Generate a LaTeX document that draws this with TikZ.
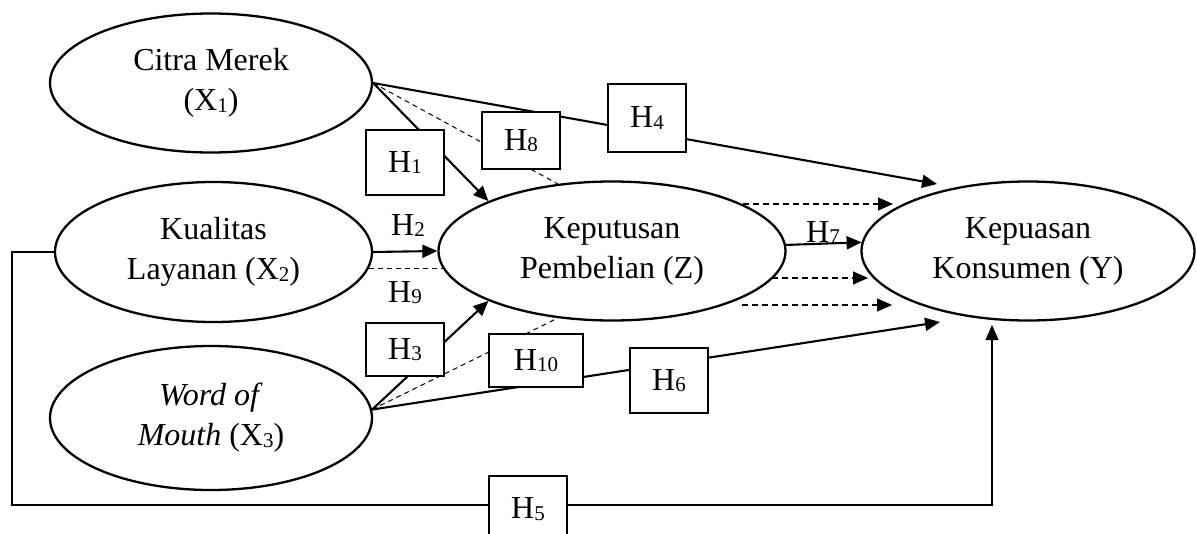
\documentclass[tikz,border=0pt]{standalone}
\usepackage{fontspec}
\setmainfont{Liberation Serif}
\usetikzlibrary{shapes.geometric,arrows.meta}
% lowered, smaller index digits
\newcommand\sbd[1]{\raisebox{-1.5pt}{\fontsize{21}{21}\selectfont #1}}

\begin{document}
\begin{tikzpicture}[x=1pt,y=-1pt,
  construct/.style={ellipse,draw,line width=2.3pt,inner sep=0pt,align=center,
    font=\fontsize{32}{40}\selectfont},
  hbox/.style={draw,fill=white,line width=1.1pt,inner sep=0pt,
    font=\fontsize{32}{40}\selectfont},
  hlabel/.style={inner sep=0pt,anchor=base,font=\fontsize{32}{40}\selectfont},
  tip/.style={-{Triangle[length=15pt,width=13pt]}},
  direct/.style={line width=2.1pt,tip},
  mediated/.style={line width=1pt,dash pattern=on 5pt off 4pt},
  mediatedtip/.style={line width=1.4pt,dash pattern=on 6pt off 4pt,tip},
  link/.style={line width=1.1pt,tip}]

\useasboundingbox (0,0) rectangle (1197,533);

% constructs
\node[construct,minimum width=322pt,minimum height=139pt] (X1) at (211,83)
  {Citra Merek\\(X\sbd{1})};
\node[construct,minimum width=317pt,minimum height=140pt] (X2) at (213.5,252)
  {Kualitas\\Layanan (X\sbd{2})};
\node[construct,minimum width=322pt,minimum height=144pt] (X3) at (211,418)
  {\textit{Word of}\\\textit{Mouth} (X\sbd{3})};
\node[construct,minimum width=347pt,minimum height=139pt] (Z) at (612,251)
  {Keputusan\\Pembelian (Z)};
\node[construct,minimum width=333pt,minimum height=139pt] (Y) at (1028,251)
  {Kepuasan\\Konsumen (Y)};

% free ends of the connectors
\coordinate (h4tip) at (937,184);
\coordinate (h6tip) at (940,322);
\coordinate (h5corner) at (12,505);
\coordinate (h5tip) at (992,325);
\coordinate (d1a) at (743,204);
\coordinate (d1b) at (893,204);
\coordinate (d2a) at (772,278);
\coordinate (d2b) at (868,278);
\coordinate (d3a) at (742,305);
\coordinate (d3b) at (892,305);

% direct effects
\draw[direct] (X1.east) -- (Z.158);
\draw[direct] (X2.east) -- (Z.west);
\draw[direct] (X3.3) -- (Z.202);
\draw[direct] (X1.east) -- (h4tip);
\draw[direct] (X3.3) -- (h6tip);
\draw[direct] (Z.2.3) -- (Y.177.6);
\draw[link] (X2.west) -- (X2.west -| h5corner) -- (h5corner)
  -- (h5corner -| h5tip) -- (h5tip);

% mediated effects
\draw[mediated] (X1.east) -- (Z.129);
\draw[mediated] (X2.-6.7) -- (X2.-6.7 -| Z.186.5);
\draw[mediated] (X3.3) -- (Z.231);
\draw[mediatedtip] (d1a) -- (d1b);
\draw[mediatedtip] (d2a) -- (d2b);
\draw[mediatedtip] (d3a) -- (d3b);

% hypothesis boxes
\node[hbox,minimum width=78pt,minimum height=65pt] (h1) at (405,162.5) {H\sbd{1}};
\node[hbox,minimum width=78pt,minimum height=57pt] (h8) at (521,140.5) {H\sbd{8}};
\node[hbox,minimum width=78pt,minimum height=68pt] (h4) at (647,118) {H\sbd{4}};
\node[hbox,minimum width=78pt,minimum height=53pt] (h3) at (405,349.5) {H\sbd{3}};
\node[hbox,minimum width=94pt,minimum height=53pt] (h10) at (536,360.5) {H\sbd{10}};
\node[hbox,minimum width=78pt,minimum height=65pt] (h6) at (669,380.5) {H\sbd{6}};
\node[hbox,minimum width=78pt,minimum height=66pt] (h5) at (528,509) {H\sbd{5}};

% plain labels
\node[hlabel] (h2) at (408,235) {H\sbd{2}};
\node[hlabel] (h9) at (405,302) {H\sbd{9}};
\node[hlabel] (h7) at (823,242) {H\sbd{7}};
\end{tikzpicture}
\end{document}
